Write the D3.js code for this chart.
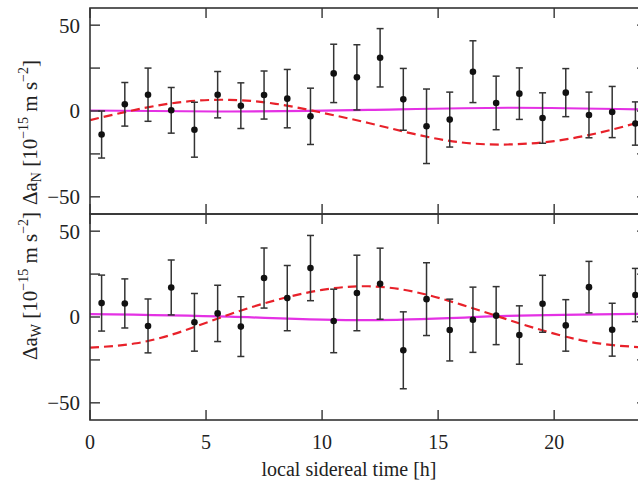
<!DOCTYPE html>
<html>
<head>
<meta charset="utf-8">
<script src="https://cdn.jsdelivr.net/npm/d3@7"></script>
<style>
  body { margin: 0; background: #fff; }
  svg text { font-family: "Liberation Serif", "DejaVu Serif", serif; fill: #222; }
  .frame { fill: none; stroke: #333; stroke-width: 1.6; }
  .tick { stroke: #333; stroke-width: 1.4; }
  .err { stroke: #333; stroke-width: 1.5; }
  .fit { fill: none; stroke: #e8212a; stroke-width: 2.2; stroke-dasharray: 9,5; }
  .flat { fill: none; stroke: #e431e4; stroke-width: 2.2; }
</style>
</head>
<body>
<svg id="chart" width="638" height="486"></svg>
<script>
// bin centres [h]
const hours = [0.5, 1.5, 2.5, 3.5, 4.5, 5.5, 6.5, 7.5, 8.5, 9.5, 10.5, 11.5,
               12.5, 13.5, 14.5, 15.5, 16.5, 17.5, 18.5, 19.5, 20.5, 21.5, 22.5, 23.5];

// north component
const northVal = [-13.7, 3.9, 9.5, 0.4, -10.9, 9.5, 3.1, 9.3, 7.2, -3.1, 21.9, 19.6,
                  31.0, 6.8, -8.9, -5.0, 22.9, 4.7, 10.1, -4.1, 10.7, -2.3, -0.6, -7.3];
const northErr = [13.7, 12.7, 15.5, 13.3, 16.0, 13.5, 13.3, 14.0, 17.0, 16.4, 17.0, 19.0,
                  17.0, 18.0, 21.7, 16.0, 18.0, 15.6, 15.0, 14.7, 14.0, 13.3, 14.9, 12.6];

// west component
const westVal = [8.1, 7.9, -5.2, 17.2, -3.1, 2.1, -5.6, 22.7, 11.0, 28.5, -2.3, 14.0,
                 19.4, -19.4, 10.4, -7.6, -1.6, 0.8, -10.5, 7.7, -4.9, 17.4, -7.4, 12.8];
const westErr = [16.3, 14.3, 15.7, 16.0, 16.8, 16.4, 17.4, 17.5, 19.0, 19.0, 18.5, 22.0,
                 20.7, 22.4, 21.2, 18.0, 19.0, 16.9, 17.0, 16.6, 15.0, 15.0, 15.4, 15.5];

// red dashed curves
const fitT = [0, 2, 4, 6, 8, 10, 12, 14, 16, 18, 20, 22, 24];
const northFit = [-5.3, 0.8, 5.3, 6.5, 4.2, -1.0, -7.0, -13.5, -18.3, -19.5, -17.5, -12.5, -5.3];
const westFit = [-17.8, -15.3, -8.2, 1.5, 9.8, 15.8, 17.9, 14.6, 7.2, -1.5, -9.7, -15.5, -17.8];

// magenta curves
const flatT = [0, 6, 12, 18, 24];
const northFlat = [0.3, -0.3, 0.6, 1.9, 0.8];
const westFlat = [1.7, 0.2, -1.8, 0.6, 1.9];

const xTicks = [0, 5, 10, 15, 20];
const yTicks = [-50, -25, 0, 25, 50];
const yLabels = [-50, 0, 50];

const svg = d3.select("#chart");

const x = d3.scaleLinear().domain([0, 24]).range([90, 647]);
const yTop = d3.scaleLinear().domain([-60, 60]).range([214, 8]);
const yBot = d3.scaleLinear().domain([-60, 60]).range([420, 214]);

const tickLen = 10;

svg.append("clipPath").attr("id", "clip")
    .append("rect").attr("x", 90).attr("y", 8).attr("width", 557).attr("height", 412);

function panel(y, vals, errs, fit, flat, bottom) {
    const g = svg.append("g");
    const [y0, y1] = y.range();

    const plot = g.append("g").attr("clip-path", "url(#clip)");

    // magenta
    plot.append("path")
        .datum(flatT.map((t, i) => [t, flat[i]]))
        .attr("class", "flat")
        .attr("d", d3.line().x(d => x(d[0])).y(d => y(d[1])).curve(d3.curveNatural));

    // red dashed
    plot.append("path")
        .datum(fitT.map((t, i) => [t, fit[i]]))
        .attr("class", "fit")
        .attr("d", d3.line().x(d => x(d[0])).y(d => y(d[1])).curve(d3.curveNatural));

    const pts = hours.map((h, i) => ({ h, v: vals[i], e: errs[i] }));

    const eb = plot.selectAll(".eb").data(pts).enter().append("g");
    eb.append("line").attr("class", "err")
        .attr("x1", d => x(d.h)).attr("x2", d => x(d.h))
        .attr("y1", d => y(d.v - d.e)).attr("y2", d => y(d.v + d.e));
    eb.append("line").attr("class", "err")
        .attr("x1", d => x(d.h) - 3.5).attr("x2", d => x(d.h) + 3.5)
        .attr("y1", d => y(d.v + d.e)).attr("y2", d => y(d.v + d.e));
    eb.append("line").attr("class", "err")
        .attr("x1", d => x(d.h) - 3.5).attr("x2", d => x(d.h) + 3.5)
        .attr("y1", d => y(d.v - d.e)).attr("y2", d => y(d.v - d.e));
    eb.append("circle")
        .attr("cx", d => x(d.h)).attr("cy", d => y(d.v))
        .attr("r", 3.3).attr("fill", "#111");

    // ticks (inward, all four sides)
    yTicks.forEach(t => {
        g.append("line").attr("class", "tick")
            .attr("x1", x(0)).attr("x2", x(0) + tickLen)
            .attr("y1", y(t)).attr("y2", y(t));
        g.append("line").attr("class", "tick")
            .attr("x1", x(24)).attr("x2", x(24) - tickLen)
            .attr("y1", y(t)).attr("y2", y(t));
    });
    xTicks.forEach(t => {
        g.append("line").attr("class", "tick")
            .attr("x1", x(t)).attr("x2", x(t))
            .attr("y1", y0).attr("y2", y0 - tickLen);
        g.append("line").attr("class", "tick")
            .attr("x1", x(t)).attr("x2", x(t))
            .attr("y1", y1).attr("y2", y1 + tickLen);
    });

    g.append("rect").attr("class", "frame")
        .attr("x", x(0)).attr("y", y1)
        .attr("width", x(24) - x(0)).attr("height", y0 - y1);

    g.selectAll(".ylab").data(yLabels).enter().append("text")
        .attr("x", 80).attr("y", d => y(d))
        .attr("dy", "0.35em")
        .attr("text-anchor", "end")
        .attr("font-size", 21)
        .text(d => d < 0 ? "\u2212" + Math.abs(d) : d);

    if (bottom) {
        g.selectAll(".xlab").data(xTicks).enter().append("text")
            .attr("x", d => x(d)).attr("y", 449)
            .attr("text-anchor", "middle")
            .attr("font-size", 20)
            .text(d => d);
    }
    return g;
}

panel(yTop, northVal, northErr, northFit, northFlat, false);
panel(yBot, westVal, westErr, westFit, westFlat, true);

svg.append("text")
    .attr("x", 349).attr("y", 476)
    .attr("text-anchor", "middle")
    .attr("font-size", 20)
    .text("local sidereal time [h]");

function yTitle(startY, sub) {
    const t = svg.append("text")
        .attr("transform", `translate(37,${startY}) rotate(-90)`)
        .attr("font-size", 21);
    t.append("tspan").text("\u0394a");
    t.append("tspan").attr("font-size", 14).attr("dy", 4).text(sub);
    t.append("tspan").attr("dy", -4).text(" [10");
    t.append("tspan").attr("font-size", 14).attr("dy", -9).text("\u221215");
    t.append("tspan").attr("dy", 9).text(" m s");
    t.append("tspan").attr("font-size", 14).attr("dy", -9).text("\u22122");
    t.append("tspan").attr("dy", 9).text("]");
}

yTitle(205, "N");
yTitle(360, "W");
</script>
</body>
</html>
